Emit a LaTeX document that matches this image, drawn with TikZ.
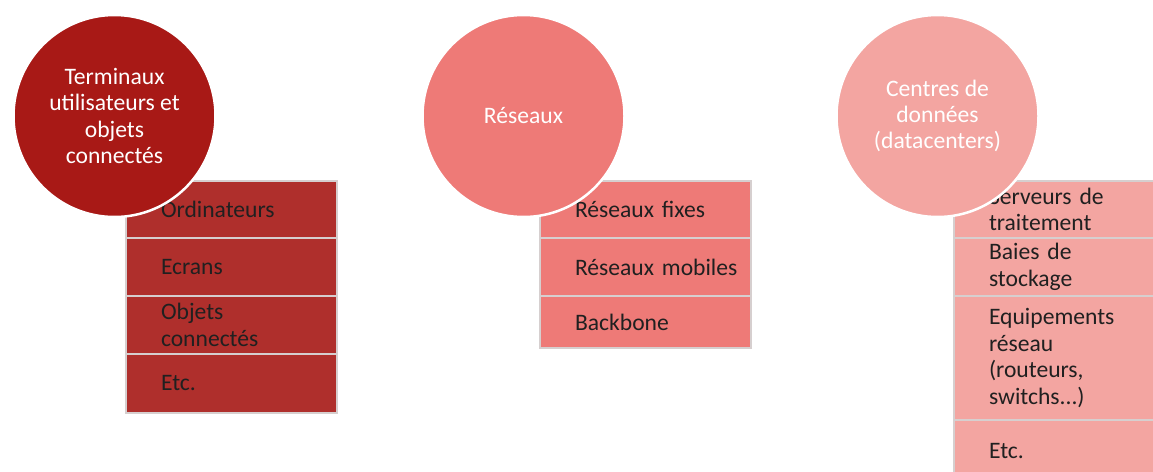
\documentclass[tikz,border=0pt]{standalone}
\usepackage{fontspec}
\setmainfont{Carlito}
\definecolor{cOne}{HTML}{A81916}
\definecolor{bOne}{HTML}{AF2F2C}
\definecolor{cTwo}{HTML}{EE7A77}
\definecolor{bTwo}{HTML}{EE7A77}
\definecolor{cThree}{HTML}{F3A5A1}
\definecolor{bThree}{HTML}{F3A5A1}
\definecolor{edge}{HTML}{D6CFCF}
\definecolor{ink}{HTML}{202020}
\tikzset{
  bigtext/.style={font=\fontsize{23.6}{26.4}\selectfont},
  hub/.style={circle, minimum size=202pt, inner sep=0pt, draw=white, line width=2.5pt,
    text=white, align=center, bigtext},
  item/.style={rectangle, anchor=north west, minimum width=211pt, inner xsep=35pt, inner ysep=0pt,
    text width=141pt, align=left, draw=edge, line width=2pt, text=ink, bigtext},
}
\begin{document}
\begin{tikzpicture}[x=1pt,y=-1pt]
\useasboundingbox (0,0) rectangle (1153,471);
% column 1
\node[item, fill=bOne, minimum height=57pt] (a1) at (125,180) {Ordinateurs};
\node[item, fill=bOne, minimum height=58pt] (a2) at (125,237) {Ecrans};
\node[item, fill=bOne, minimum height=58pt] (a3) at (125,295) {Objets\\connectés};
\node[item, fill=bOne, minimum height=59pt] (a4) at (125,353) {Etc.};
% column 2
\node[item, fill=bTwo, minimum height=57pt] (b1) at (539,180) {\mbox{Réseaux fixes}};
\node[item, fill=bTwo, minimum height=58pt] (b2) at (539,237) {\mbox{Réseaux mobiles}};
\node[item, fill=bTwo, minimum height=52pt] (b3) at (539,295) {Backbone};
% column 3
\node[item, fill=bThree, minimum height=57pt] (c1) at (953,180) {Serveurs de\\traitement};
\node[item, fill=bThree, minimum height=58pt] (c2) at (953,237) {Baies de\\stockage};
\node[item, fill=bThree, minimum height=124pt] (c3) at (953,295) {Equipements\\réseau\\(routeurs,\\switchs.{}.{}.)};
\node[item, fill=bThree, minimum height=62pt] (c4) at (953,419) {Etc.};
% circles
\node[hub, fill=cOne] (h1) at (114.5,116) {Terminaux\\utilisateurs et\\objets\\connectés};
\node[hub, fill=cTwo] (h2) at (523.5,116) {Réseaux};
\node[hub, fill=cThree] (h3) at (937.5,116) {Centres de\\données\\(datacenters)};
\end{tikzpicture}
\end{document}
